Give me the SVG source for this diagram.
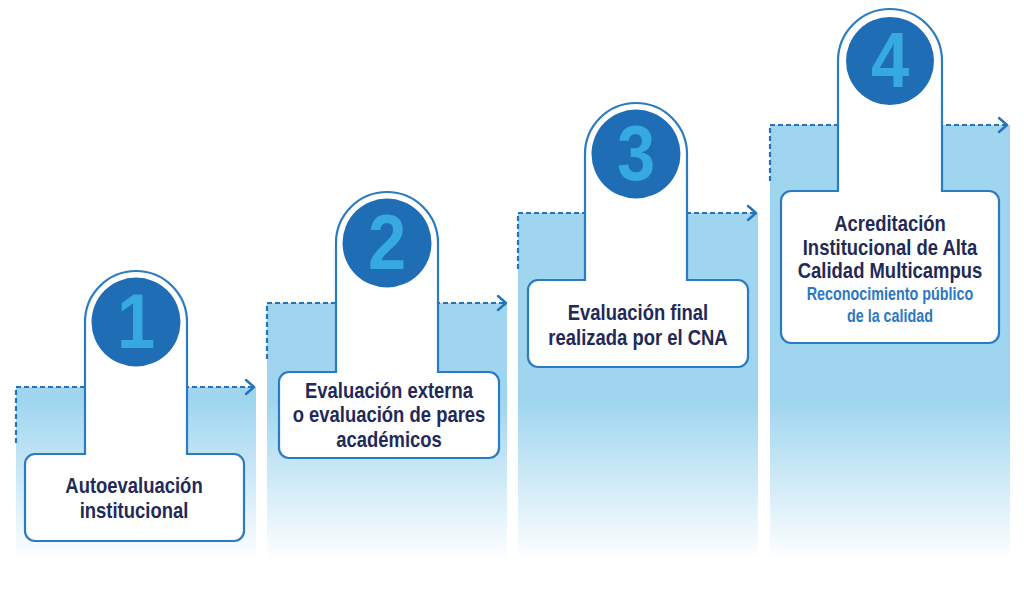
<svg xmlns="http://www.w3.org/2000/svg" width="1024" height="593" viewBox="0 0 1024 593">
<defs>
<linearGradient id="fade" gradientUnits="userSpaceOnUse" x1="0" y1="400" x2="0" y2="560">
<stop offset="0" stop-color="#9fd5ef"/>
<stop offset="1" stop-color="#ffffff"/>
</linearGradient>
<style>
.band{fill:url(#fade);}
.dash{fill:none;stroke:#2474b8;stroke-width:2.2;stroke-dasharray:5 3;}
.arrow{fill:none;stroke:#2474b8;stroke-width:2.4;stroke-linecap:round;stroke-linejoin:round;}
.shape{fill:#ffffff;stroke:#2a7cc2;stroke-width:2.2;}
.disc{fill:#1f6db4;}
.num{font-family:"Liberation Sans",Arial,sans-serif;font-weight:bold;font-size:78px;fill:#36a9e1;text-anchor:middle;}
.title{font-family:"Liberation Sans",Arial,sans-serif;font-weight:bold;font-size:22.5px;fill:#1f2a58;text-anchor:middle;}
.sub{font-family:"Liberation Sans",Arial,sans-serif;font-weight:bold;font-size:17.5px;fill:#2a78c4;text-anchor:middle;}
</style>
</defs>
<rect width="1024" height="593" fill="#ffffff"/>
<g id="bands">
<rect class="band" x="16" y="387" width="240" height="171"/>
<rect class="band" x="267" y="303" width="240" height="255"/>
<rect class="band" x="518" y="213" width="240" height="345"/>
<rect class="band" x="770" y="125" width="240" height="433"/>
</g>
<g id="connectors">
<path class="dash" d="M16 443 V387 H252"/>
<polyline class="arrow" points="246,380 254,387 246,394"/>
<path class="dash" d="M267 359 V303 H504"/>
<polyline class="arrow" points="498,296 506,303 498,310"/>
<path class="dash" d="M518 269 V213 H754"/>
<polyline class="arrow" points="748,206 756,213 748,220"/>
<path class="dash" d="M770 181 V125 H1005"/>
<polyline class="arrow" points="999,118 1007,125 999,132"/>
</g>
<g id="step1">
<path class="shape" d="M35 454 H85 V322 A51 51 0 0 1 187 322 V454 H234 A10 10 0 0 1 244 464 V531 A10 10 0 0 1 234 541 H35 A10 10 0 0 1 25 531 V464 A10 10 0 0 1 35 454 Z"/>
<circle class="disc" cx="136" cy="322" r="44.5"/>
<text class="num" transform="matrix(0.88 0 0 1 136 348)">1</text>
<text class="title" transform="matrix(0.82 0 0 1 134 493)">Autoevaluación</text>
<text class="title" transform="matrix(0.82 0 0 1 134 518)">institucional</text>
</g>
<g id="step2">
<path class="shape" d="M289 372 H336 V243 A51 51 0 0 1 438 243 V372 H489 A10 10 0 0 1 499 382 V448 A10 10 0 0 1 489 458 H289 A10 10 0 0 1 279 448 V382 A10 10 0 0 1 289 372 Z"/>
<circle class="disc" cx="387" cy="243" r="44.5"/>
<text class="num" transform="matrix(0.88 0 0 1 387 269)">2</text>
<text class="title" transform="matrix(0.82 0 0 1 389 398)">Evaluación externa</text>
<text class="title" transform="matrix(0.82 0 0 1 389 422)">o evaluación de pares</text>
<text class="title" transform="matrix(0.82 0 0 1 389 447)">académicos</text>
</g>
<g id="step3">
<path class="shape" d="M538 280 H585 V154 A51 51 0 0 1 687 154 V280 H738 A10 10 0 0 1 748 290 V357 A10 10 0 0 1 738 367 H538 A10 10 0 0 1 528 357 V290 A10 10 0 0 1 538 280 Z"/>
<circle class="disc" cx="636" cy="154" r="44.5"/>
<text class="num" transform="matrix(0.88 0 0 1 636 180)">3</text>
<text class="title" transform="matrix(0.82 0 0 1 638 320)">Evaluación final</text>
<text class="title" transform="matrix(0.82 0 0 1 638 345)">realizada por el CNA</text>
</g>
<g id="step4">
<path class="shape" d="M791 191 H838 V61 A52 52 0 0 1 942 61 V191 H989 A10 10 0 0 1 999 201 V333 A10 10 0 0 1 989 343 H791 A10 10 0 0 1 781 333 V201 A10 10 0 0 1 791 191 Z"/>
<circle class="disc" cx="890" cy="61" r="44"/>
<text class="num" transform="matrix(0.88 0 0 1 890 87)">4</text>
<text class="title" transform="matrix(0.82 0 0 1 890 231)">Acreditación</text>
<text class="title" transform="matrix(0.82 0 0 1 890 255)">Institucional de Alta</text>
<text class="title" transform="matrix(0.82 0 0 1 890 278)">Calidad Multicampus</text>
<text class="sub" transform="matrix(0.82 0 0 1 890 300)">Reconocimiento público</text>
<text class="sub" transform="matrix(0.82 0 0 1 890 322)">de la calidad</text>
</g>
</svg>
